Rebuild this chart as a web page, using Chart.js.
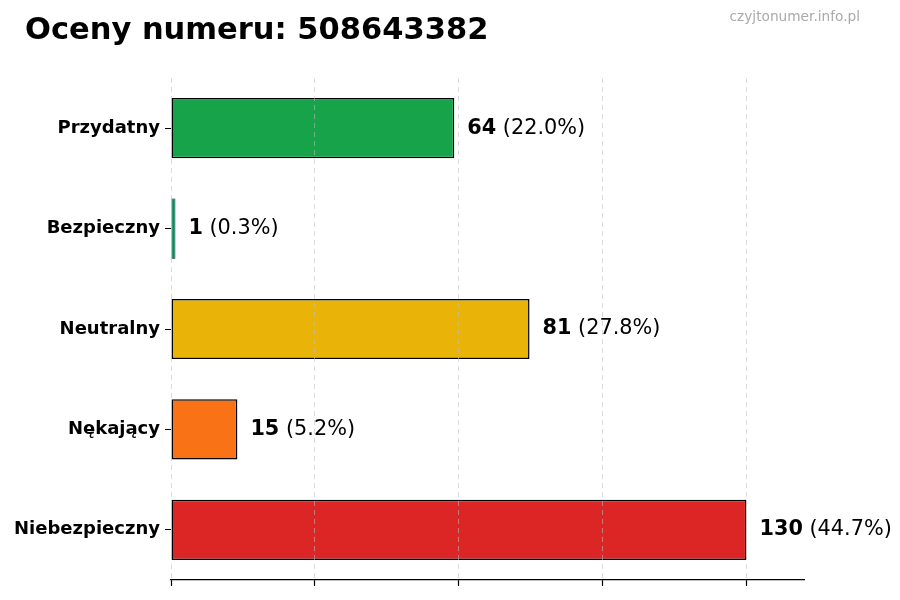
<!DOCTYPE html>
<html>
<head>
<meta charset="utf-8">
<script src="https://cdn.jsdelivr.net/npm/chart.js@4/dist/chart.umd.min.js"></script>
<style>
    html, body { margin: 0; padding: 0; background: #fff; }
    #wrap { width: 900px; height: 600px; }
</style>
</head>
<body>
<div id="wrap"><canvas id="ratingsChart" width="900" height="600"></canvas></div>
<script>
const phoneNumber = '508643382';
const categories = ['Przydatny', 'Bezpieczny', 'Neutralny', 'Nękający', 'Niebezpieczny'];
const counts = [64, 1, 81, 15, 130];
const barColors = ['#16a34a', '#0b8a5c', '#eab308', '#f97316', '#dc2626'];
const xGridTicks = [0, 32.5, 65, 97.5, 130];

const FONT = "'DejaVu Sans', sans-serif";
const total = counts.reduce((a, b) => a + b, 0);

// title + watermark on top of the canvas
const headerPlugin = {
    id: 'header',
    afterDraw(chart) {
        const ctx = chart.ctx;
        ctx.save();
        ctx.textBaseline = 'middle';
        ctx.fillStyle = '#000';
        ctx.textAlign = 'left';
        ctx.font = 'bold 30.5px ' + FONT;
        ctx.fillText('Oceny numeru: ' + phoneNumber, 25, 31);
        ctx.fillStyle = '#aaaaaa';
        ctx.textAlign = 'right';
        ctx.font = '13.7px ' + FONT;
        ctx.fillText('czyjtonumer.info.pl', 860, 17);
        ctx.restore();
    }
};

// "64 (22.0%)" next to each bar
const valueLabels = {
    id: 'valueLabels',
    afterDraw(chart) {
        const ctx = chart.ctx;
        const meta = chart.getDatasetMeta(0);
        ctx.save();
        ctx.textBaseline = 'middle';
        ctx.textAlign = 'left';
        ctx.fillStyle = '#000';
        meta.data.forEach((bar, i) => {
            const pct = (counts[i] / total * 100).toFixed(1);
            let x = bar.x + 13;
            ctx.font = 'bold 20.8px ' + FONT;
            const num = String(counts[i]);
            ctx.fillText(num, x, bar.y);
            x += ctx.measureText(num).width;
            ctx.font = '20.8px ' + FONT;
            ctx.fillText(' (' + pct + '%)', x, bar.y);
        });
        ctx.restore();
    }
};

new Chart(document.getElementById('ratingsChart'), {
    type: 'bar',
    data: {
        labels: categories,
        datasets: [{
            data: counts,
            backgroundColor: barColors,
            borderColor: '#000',
            // chart.js draws the edge inside the bar, so keep it thin on tiny bars
            borderWidth: c => (c.raw < 3 ? 0.7 : 1.5),
            borderSkipped: false,
            barPercentage: 0.6,
            categoryPercentage: 1
        }]
    },
    options: {
        indexAxis: 'y',
        responsive: false,
        animation: false,
        layout: { padding: { top: 78, right: 96, bottom: 14, left: 0 } },
        plugins: {
            legend: { display: false },
            tooltip: { enabled: false }
        },
        scales: {
            x: {
                min: 0,
                max: 143,
                afterBuildTicks: scale => {
                    scale.ticks = xGridTicks.map(v => ({ value: v }));
                },
                ticks: { display: false },
                grid: {
                    z: 1,
                    color: 'rgba(190,190,190,0.55)',
                    lineWidth: 1,
                    drawTicks: true,
                    tickLength: 6,
                    tickColor: '#000',
                    tickWidth: 1.2
                },
                // border after the grid so its position is already known
                border: { display: true, color: '#000', width: 1.2, dash: [5, 4], z: 2 }
            },
            y: {
                afterFit: scale => { scale.width = 171; },
                ticks: {
                    color: '#000',
                    padding: 5,
                    font: { family: FONT, size: 18, weight: 'bold' }
                },
                grid: {
                    display: true,
                    offset: false,
                    drawOnChartArea: false,
                    drawTicks: true,
                    tickLength: 6,
                    tickColor: '#000'
                },
                border: { display: false }
            }
        }
    },
    plugins: [headerPlugin, valueLabels]
});
</script>
</body>
</html>
